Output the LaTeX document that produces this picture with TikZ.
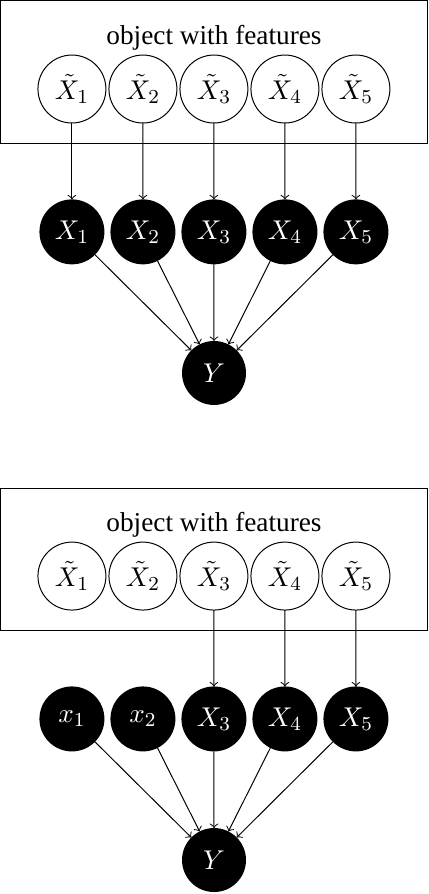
\documentclass[tikz,border=0pt]{standalone}
\usepackage{fontspec}
\setmainfont{Liberation Serif}
\usetikzlibrary{positioning,chains}
\begin{document}
\begin{tikzpicture}[
  every node/.style={circle,inner sep=0pt,outer sep=0pt,font=\fontsize{11pt}{13pt}\selectfont},
  featnode/.style={draw,minimum size=27.4pt},
  varnode/.style={fill=black,text=white,minimum size=26.2pt},
  outnode/.style={fill=black,text=white,minimum size=25.8pt},
  objbox/.style={draw,rectangle,minimum width=171.8pt,minimum height=57.3pt},
  ->
]
\useasboundingbox (0,0) rectangle (172.6pt,-360.5pt);

% first panel: every feature feeds a variable
\node[objbox] (box1) at (86.3pt,-29.05pt) {};
\node[anchor=base] (title1) at (86.3pt,-18.1pt) {object with features};
\begin{scope}[xshift=29pt,yshift=-35.9pt,start chain=going right,node distance=1.23pt]
\foreach \i in {1,2,...,5}
  \node[featnode,on chain] (f\i) {$\tilde{X}_\i$};
\end{scope}
\begin{scope}[xshift=29pt,yshift=-93.5pt,start chain=going right,node distance=2.43pt]
\foreach \i in {1,2,...,5}
  \node[varnode,on chain] (v\i) {$X_\i$};
\end{scope}
\node[outnode] (y1) at (86.3pt,-150.4pt) {$Y$};

% the edges
\foreach \i in {1,2,...,5}
  \draw (f\i) -- (v\i);
\foreach \i in {1,2,...,5}
  \draw (v\i) -- (y1);

% second panel: two variables fixed
\begin{scope}[yshift=-196.4pt]
\node[objbox] (box2) at (86.3pt,-29.05pt) {};
\node[anchor=base] (title2) at (86.3pt,-18.1pt) {object with features};
\end{scope}
\begin{scope}[xshift=29pt,yshift=-232.3pt,start chain=going right,node distance=1.23pt]
\foreach \i in {1,2,...,5}
  \node[featnode,on chain] (g\i) {$\tilde{X}_\i$};
\end{scope}
\begin{scope}[xshift=29pt,yshift=-289.9pt,start chain=going right,node distance=2.43pt]
\foreach \i/\l in {1/x_1,2/x_2,3/X_3,4/X_4,5/X_5}
  \node[varnode,on chain] (w\i) {$\l$};
\end{scope}
\node[outnode] (y2) at (86.3pt,-346.8pt) {$Y$};

% the edges
\foreach \i in {3,4,5}
  \draw (g\i) -- (w\i);
\foreach \i in {1,2,...,5}
  \draw (w\i) -- (y2);
\end{tikzpicture}
\end{document}
